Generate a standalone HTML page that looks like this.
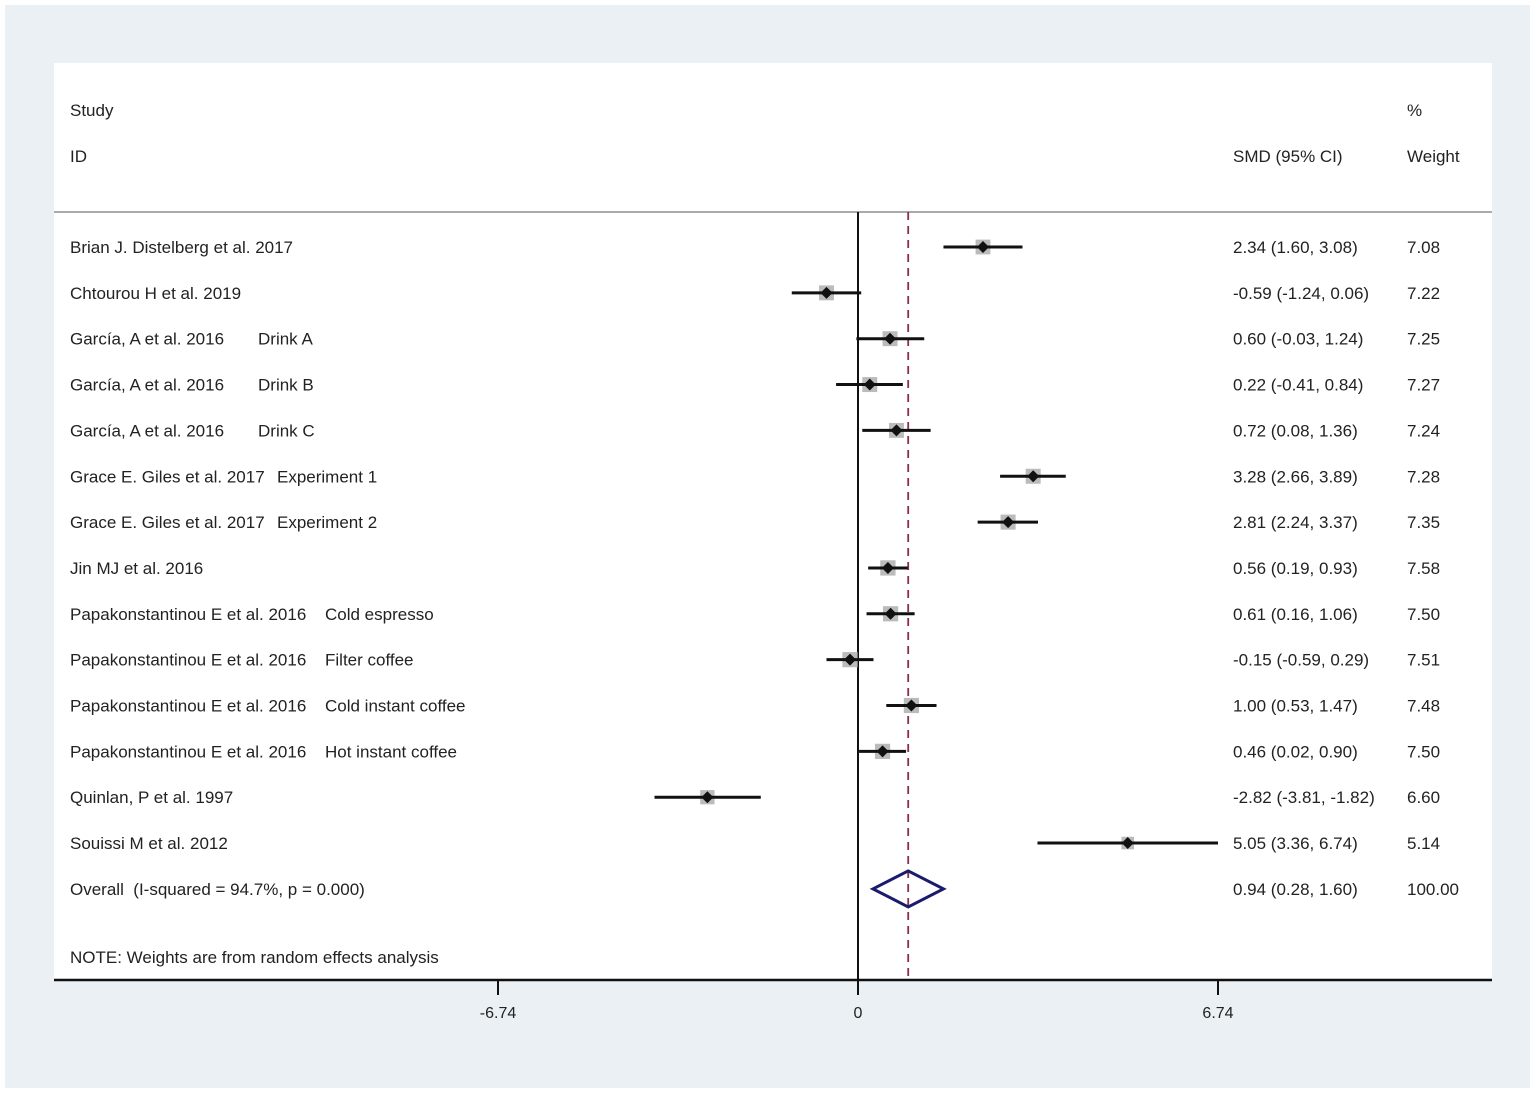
<!DOCTYPE html>
<html><head><meta charset="utf-8"><style>
body{margin:0;background:#fff;}
svg{display:block;font-family:"Liberation Sans",Arial,sans-serif;}
</style></head><body>
<svg width="1535" height="1093" viewBox="0 0 1535 1093">
<rect x="5" y="5" width="1525" height="1083" fill="#eaf0f3"/>
<rect x="54" y="63" width="1438" height="917" fill="#fff"/>
<g font-size="17" fill="#222">
<text x="70" y="116">Study</text>
<text x="70" y="162">ID</text>
<text x="1233" y="162">SMD (95% CI)</text>
<text x="1407" y="116">%</text>
<text x="1407" y="162">Weight</text>
<text x="70" y="963">NOTE: Weights are from random effects analysis</text>
</g>
<line x1="54" y1="212" x2="1492" y2="212" stroke="#aaa" stroke-width="2"/>
<g id="marks"></g>
<line x1="54" y1="980" x2="1492" y2="980" stroke="#111" stroke-width="2.5"/>
<g id="ticks" font-size="16" fill="#222"></g>
</svg>
<script>
const studies=["Brian J. Distelberg et al. 2017","Chtourou H et al. 2019","García, A et al. 2016","García, A et al. 2016","García, A et al. 2016","Grace E. Giles et al. 2017","Grace E. Giles et al. 2017","Jin MJ et al. 2016","Papakonstantinou E et al. 2016","Papakonstantinou E et al. 2016","Papakonstantinou E et al. 2016","Papakonstantinou E et al. 2016","Quinlan, P et al. 1997","Souissi M et al. 2012"];
const subgroups=["","","Drink A","Drink B","Drink C","Experiment 1","Experiment 2","","Cold espresso","Filter coffee","Cold instant coffee","Hot instant coffee","",""];
const smd=[2.34,-0.59,0.60,0.22,0.72,3.28,2.81,0.56,0.61,-0.15,1.00,0.46,-2.82,5.05];
const lower=[1.60,-1.24,-0.03,-0.41,0.08,2.66,2.24,0.19,0.16,-0.59,0.53,0.02,-3.81,3.36];
const upper=[3.08,0.06,1.24,0.84,1.36,3.89,3.37,0.93,1.06,0.29,1.47,0.90,-1.82,6.74];
const weights=["7.08","7.22","7.25","7.27","7.24","7.28","7.35","7.58","7.50","7.51","7.48","7.50","6.60","5.14"];
const overall=[0.94,0.28,1.60];
const tickVals=[-6.74,0,6.74];
const tickLabels=["-6.74","0","6.74"];
const NS="http://www.w3.org/2000/svg";
const x=v=>858+v*(360/6.74);
const rowY=i=>247+i*45.85;
const g=document.getElementById('marks');
function mk(tag,attrs,parent,text){const e=document.createElementNS(NS,tag);for(const k in attrs)e.setAttribute(k,attrs[k]);if(text!==undefined)e.textContent=text;(parent||g).appendChild(e);return e;}
const f2=v=>v.toFixed(2);
const subX=[0,0,258,258,258,277,277,0,325,325,325,325,0,0];
let zl=mk('line',{x1:x(0),y1:212,x2:x(0),y2:980,stroke:'#111','stroke-width':2});


let dl=mk('line',{x1:x(overall[0]),y1:212,x2:x(overall[0]),y2:980,stroke:'#8b2f45','stroke-width':1.8,'stroke-dasharray':'8,6'});


smd.forEach((v,i)=>{
 const y=rowY(i);
 const t=mk('text',{x:70,y:y+6,'font-size':17,fill:'#222'},g,studies[i]);
 
 
 if(subgroups[i]){const s=mk('text',{x:subX[i],y:y+6,'font-size':17,fill:'#222'},g,subgroups[i]);
 
 }
 const c=mk('text',{x:1233,y:y+6,'font-size':17,fill:'#222'},g,f2(v)+" ("+f2(lower[i])+", "+f2(upper[i])+")");
 
 
 const w=mk('text',{x:1407,y:y+6,'font-size':17,fill:'#222'},g,weights[i]);
 
 
 const sz=15*Math.sqrt(parseFloat(weights[i])/7.3);
 const sq=mk('rect',{x:x(v)-sz/2,y:y-sz/2,width:sz,height:sz,fill:'#bbb'});
 
 
 const l=mk('line',{x1:x(lower[i]),y1:y,x2:x(upper[i]),y2:y,stroke:'#111','stroke-width':3});
 
 
 const d=mk('path',{d:`M${x(v)-6},${y} L${x(v)},${y-6} L${x(v)+6},${y} L${x(v)},${y+6} Z`,fill:'#111'});
 
 
});
const oy=rowY(14);
const ot=mk('text',{x:70,y:oy+6,'font-size':17,fill:'#222'},g,"Overall\u00a0 (I-squared = 94.7%, p = 0.000)");


const oc=mk('text',{x:1233,y:oy+6,'font-size':17,fill:'#222'},g,f2(overall[0])+" ("+f2(overall[1])+", "+f2(overall[2])+")");


const ow=mk('text',{x:1407,y:oy+6,'font-size':17,fill:'#222'},g,"100.00");


const od=mk('path',{d:`M${x(overall[1])},${oy} L${x(overall[0])},${oy-18} L${x(overall[2])},${oy} L${x(overall[0])},${oy+18} Z`,fill:'none',stroke:'#1a1a6e','stroke-width':3});


const tg=document.getElementById('ticks');
tickVals.forEach((v,i)=>{
 const tk=mk('line',{x1:x(v),y1:980,x2:x(v),y2:995,stroke:'#111','stroke-width':2},tg);
 
 
 const tl=mk('text',{x:x(v),y:1018,'text-anchor':'middle'},tg,tickLabels[i]);
 
 
});
</script>
</body></html>
